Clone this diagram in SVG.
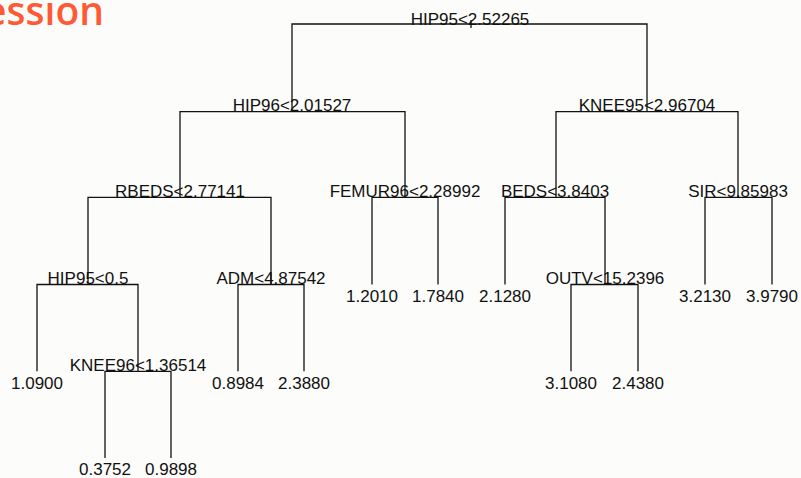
<svg xmlns="http://www.w3.org/2000/svg" width="801" height="478" viewBox="0 0 801 478">
<style>
.bg{fill:#fcfcfa}
.ln{fill:none;stroke:#111;stroke-width:1.3}
.t{font-family:"Liberation Sans",Arial,sans-serif;font-size:17px;fill:#111;text-anchor:middle}
.title{font-family:"Open Sans","DejaVu Sans",sans-serif;font-size:39px;font-weight:600;fill:#ff5a36;text-anchor:end}
</style>
<rect class="bg" x="0" y="0" width="801" height="478"/>
<text class="title" x="104" y="25">ession</text>
<g id="connectors">
<path class="ln" d="M471 20V28"/>
<path class="ln" d="M292 111.7V24H647V111.7"/>
<path class="ln" d="M180 197.3V111.7H405V197.3"/>
<path class="ln" d="M556 197.3V111.7H738V197.3"/>
<path class="ln" d="M88 284.5V197.3H271V284.5"/>
<path class="ln" d="M372 284.5V197.3H438V284.5"/>
<path class="ln" d="M505 284.5V197.3H605V284.5"/>
<path class="ln" d="M705 284.5V197.3H772V284.5"/>
<path class="ln" d="M37 371.3V284.5H138V371.3"/>
<path class="ln" d="M238 371.3V284.5H304V371.3"/>
<path class="ln" d="M571 371.3V284.5H638V371.3"/>
<path class="ln" d="M105 458V371.3H171V458"/>
</g>
<g id="n-root"><text class="t" x="470" y="25">HIP95&lt;2.52265</text></g>
<g id="n-hip96"><text class="t" x="292" y="111">HIP96&lt;2.01527</text></g>
<g id="n-knee95"><text class="t" x="647" y="111">KNEE95&lt;2.96704</text></g>
<g id="n-rbeds"><text class="t" x="180" y="197">RBEDS&lt;2.77141</text></g>
<g id="n-femur96"><text class="t" x="405" y="197">FEMUR96&lt;2.28992</text></g>
<g id="n-beds"><text class="t" x="555" y="197">BEDS&lt;3.8403</text></g>
<g id="n-sir"><text class="t" x="738" y="197">SIR&lt;9.85983</text></g>
<g id="n-hip95b"><text class="t" x="88" y="284">HIP95&lt;0.5</text></g>
<g id="n-adm"><text class="t" x="271" y="284">ADM&lt;4.87542</text></g>
<g id="n-outv"><text class="t" x="605" y="284">OUTV&lt;15.2396</text></g>
<g id="n-knee96"><text class="t" x="138" y="371">KNEE96&lt;1.36514</text></g>
<g id="l-1201"><text class="t" x="372" y="302">1.2010</text></g>
<g id="l-1784"><text class="t" x="438" y="302">1.7840</text></g>
<g id="l-2128"><text class="t" x="505" y="302">2.1280</text></g>
<g id="l-3213"><text class="t" x="705" y="302">3.2130</text></g>
<g id="l-3979"><text class="t" x="772" y="302">3.9790</text></g>
<g id="l-1090"><text class="t" x="37" y="389">1.0900</text></g>
<g id="l-0898"><text class="t" x="238" y="389">0.8984</text></g>
<g id="l-2388"><text class="t" x="304" y="389">2.3880</text></g>
<g id="l-3108"><text class="t" x="571" y="389">3.1080</text></g>
<g id="l-2438"><text class="t" x="638" y="389">2.4380</text></g>
<g id="l-0375"><text class="t" x="105" y="475">0.3752</text></g>
<g id="l-0990"><text class="t" x="171" y="475">0.9898</text></g>
</svg>
